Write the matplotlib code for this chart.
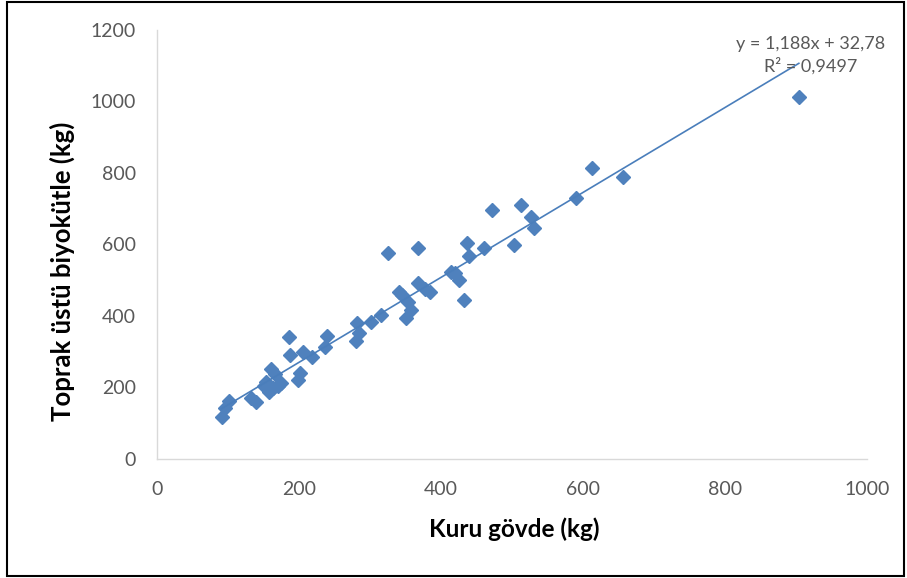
#
# Scatter of above-ground biomass vs dry stem, with linear trendline
#
import matplotlib
matplotlib.use("Agg")
import matplotlib.pyplot as plt
from matplotlib.patches import Rectangle

# data (kg)
kuru_govde = [91, 96, 102, 133, 140, 150, 153, 158, 161, 163, 166, 170, 175,
              186, 187, 199, 201, 205, 219, 236, 240, 280, 281, 285, 302, 316,
              326, 341, 345, 351, 353, 358, 367, 367, 378, 384, 414, 420, 426,
              433, 437, 440, 461, 472, 503, 513, 527, 531, 590, 613, 656, 904]
biyokutle = [118, 143, 162, 170, 160, 205, 215, 188, 252, 200, 238, 205, 212,
             342, 290, 221, 240, 300, 285, 312, 345, 330, 380, 352, 383, 403,
             576, 467, 460, 394, 440, 417, 492, 590, 475, 467, 523, 520, 501,
             445, 604, 568, 590, 696, 599, 710, 677, 646, 730, 814, 789, 1013]

# trendline coefficients shown on the chart
slope = 1.188
intercept = 32.78
r2 = 0.9497

x_ticks = [0, 200, 400, 600, 800, 1000]
y_ticks = [0, 200, 400, 600, 800, 1000, 1200]

plt.rcParams['font.family'] = ['Lato', 'DejaVu Sans']

fig = plt.figure(figsize=(9.07, 5.78), dpi=100)
ax = fig.add_axes([157/907, 1 - 459/578, 710/907, 429/578])

# points
ax.plot(kuru_govde, biyokutle, linestyle='none', marker='D', markersize=6.8,
        color='#4F81BD', zorder=3)

# trendline
x0, x1 = min(kuru_govde), max(kuru_govde)
ax.plot([x0, x1], [slope*x0 + intercept, slope*x1 + intercept],
        color='#4A7EBB', linewidth=1.2, zorder=4)

eq = "y = " + f"{slope:.3f}".replace('.', ',') + "x + " + f"{intercept:.2f}".replace('.', ',')
r2_txt = "R² = " + f"{r2:.4f}".replace('.', ',')
ax.text(921, 1129, eq + "\n" + r2_txt, ha='center', va='center',
        multialignment='center', fontsize=13, color='#595959',
        linespacing=1.35, zorder=5, clip_on=False)

ax.set_xlim(0, 1000)
ax.set_ylim(0, 1200)
ax.set_xticks(x_ticks)
ax.set_yticks(y_ticks)
ax.tick_params(length=0, labelsize=14, labelcolor='#595959')
ax.tick_params(axis='x', pad=16)
ax.tick_params(axis='y', pad=15)

for s in ['top', 'right']:
    ax.spines[s].set_visible(False)
for s in ['left', 'bottom']:
    ax.spines[s].set_color('#D9D9D9')
    ax.spines[s].set_linewidth(1.0)

ax.set_xlabel('Kuru gövde (kg)', fontsize=17.5, fontweight='bold', color='black')
ax.set_ylabel('Toprak üstü biyokütle (kg)', fontsize=18.5, fontweight='bold',
              color='black')
ax.xaxis.set_label_coords(0.503, -0.137)
ax.yaxis.set_label_coords(-0.115, 0.437)

# black frame around the whole chart
fig.patches.append(Rectangle((7/907, 2/578), 897/907, 574/578,
                             transform=fig.transFigure, fill=False,
                             edgecolor='black', linewidth=1.5))

fig.savefig('out.png', dpi=100)
